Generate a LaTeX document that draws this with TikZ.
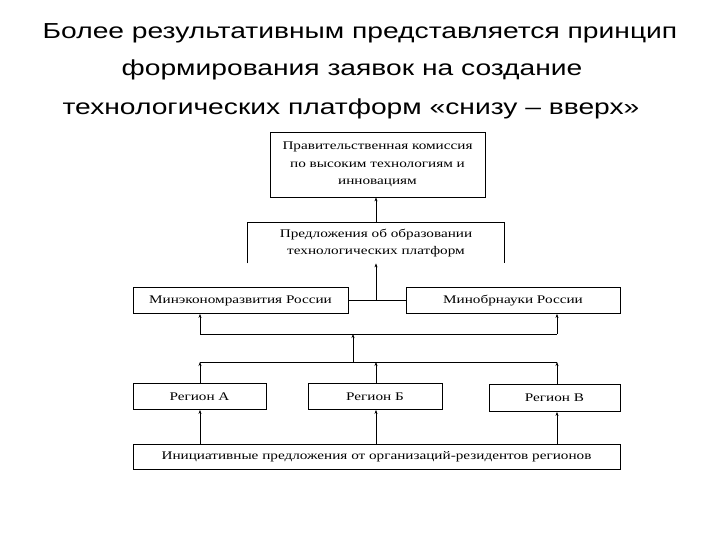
\documentclass[tikz,border=0pt]{standalone}
\usepackage{fontspec}
\setmainfont[FakeStretch=1.3]{Liberation Serif}
\newfontfamily\titlefont[FakeStretch=1.3]{Liberation Sans}
\usetikzlibrary{arrows.meta}
\begin{document}
\begin{tikzpicture}[x=1pt,y=-1pt,
  box/.style={draw,line width=0.8pt,inner sep=0pt,align=center,font=\fontsize{11.7}{17.5}\selectfont},
  ttl/.style={anchor=base,inner sep=0pt,font=\titlefont\fontsize{21.7}{26}\selectfont},
  conn/.style={line width=0.8pt},
  arr/.style={conn,-{Stealth[length=4pt,width=3pt]}}]
\useasboundingbox (0,0) rectangle (720,540);
\node[ttl] (t1) at (360,39) {Более результативным представляется принцип};
\node[ttl] (t2) at (352,76) {формирования заявок на создание};
\node[ttl] (t3) at (351,115) {технологических платформ «снизу – вверх»};
\node[box,minimum width=215pt,minimum height=65pt] (gov) at (377.5,164.5)
  {Правительственная комиссия\\по высоким технологиям и\\инновациям};
\node[box,draw=none,minimum width=256pt,minimum height=40pt,font=\fontsize{11.7}{16.5}\selectfont] (prop) at (376,243)
  {Предложения об образовании\\технологических платформ};
\draw[conn] (prop.south west) -- (prop.north west) -- (prop.north east) -- (prop.south east);
\node[box,minimum width=215pt,minimum height=26pt] (m1) at (240.5,300.5) {Минэкономразвития России};
\node[box,minimum width=214pt,minimum height=26pt] (m2) at (513,300.5) {Минобрнауки России};
\node[box,minimum width=133pt,minimum height=26pt] (rA) at (199.5,396.5) {Регион А};
\node[box,minimum width=134pt,minimum height=26pt] (rB) at (375,396.5) {Регион Б};
\node[box,minimum width=131pt,minimum height=27pt] (rC) at (554.5,398) {Регион В};
\node[box,minimum width=487pt,minimum height=25pt] (bot) at (376.5,457)
  {Инициативные предложения от организаций-резидентов регионов};
\coordinate (xA) at (200,0);
\coordinate (xB) at (376,0);
\coordinate (xC) at (557,0);
\coordinate (j1) at (376,300);
\coordinate (c0) at (353,334);
\coordinate (c1) at (353,362);
\draw[arr] (prop.north) -- (prop.north |- gov.south);
\draw[conn] (m1.east) -- (m2.west);
\draw[arr] (j1) -- (j1 |- prop.south);
\draw[conn] (xA |- c0) -- (xC |- c0);
\draw[arr] (xA |- c0) -- (xA |- m1.south);
\draw[arr] (xC |- c0) -- (xC |- m2.south);
\draw[arr] (c1) -- (c0);
\draw[conn] (xA |- c1) -- (xC |- c1);
\draw[arr] (xA |- rA.north) -- (xA |- c1);
\draw[arr] (xB |- rB.north) -- (xB |- c1);
\draw[arr] (xC |- rC.north) -- (xC |- c1);
\draw[arr] (xA |- bot.north) -- (xA |- rA.south);
\draw[arr] (xB |- bot.north) -- (xB |- rB.south);
\draw[arr] (xC |- bot.north) -- (xC |- rC.south);
\end{tikzpicture}
\end{document}
